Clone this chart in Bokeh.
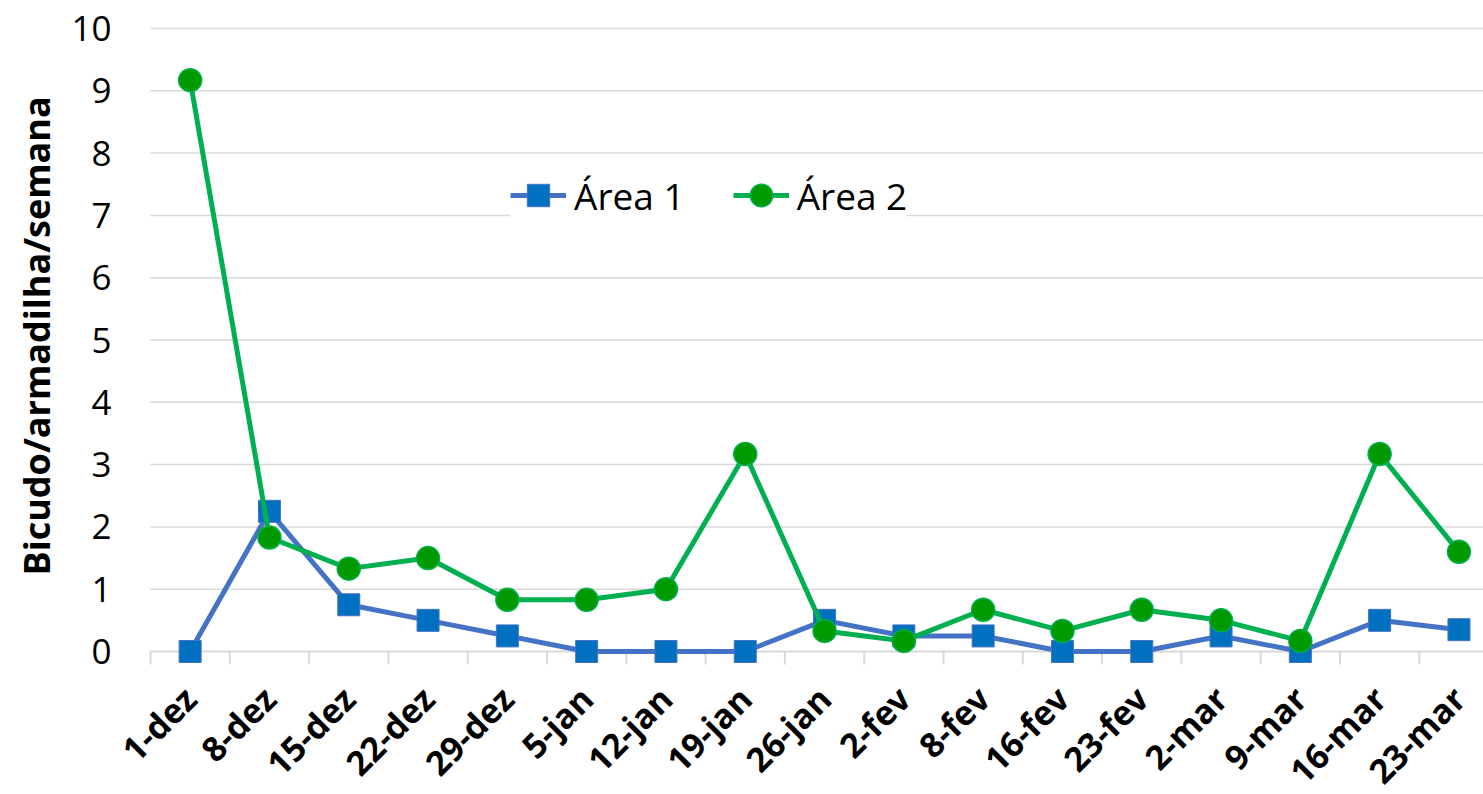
import math
from bokeh.plotting import figure
from bokeh.models import (FixedTicker, LinearAxis, Legend, LegendItem, Range1d, Grid, Title)
from bokeh.core.properties import value
from bokeh.embed import file_html
from bokeh.resources import INLINE

# Weekly trap catches of the boll weevil (bicudo) in two areas
weeks = ["1-dez", "8-dez", "15-dez", "22-dez", "29-dez", "5-jan", "12-jan",
         "19-jan", "26-jan", "2-fev", "8-fev", "16-fev", "23-fev", "2-mar",
         "9-mar", "16-mar", "23-mar"]
area1 = [0, 2.25, 0.75, 0.5, 0.25, 0, 0, 0, 0.5, 0.25, 0.25, 0, 0, 0.25, 0, 0.5, 0.35]
area2 = [9.17, 1.83, 1.33, 1.5, 0.83, 0.83, 1.0, 3.17, 0.33, 0.17, 0.67, 0.33,
         0.67, 0.5, 0.17, 3.17, 1.6]
y_ticks = list(range(0, 11))
y_title = "Bicudo/armadilha/semana"

FONT = "Open Sans"
GRID = "#D9D9D9"
PX = 62.3   # pixels per unit on the value axis
CW = 79.3   # pixels per category
LEFT = 117  # frame left edge

xs = list(range(len(weeks)))
bounds = [i - 0.5 for i in xs]
x0 = -0.5 - (150 - LEFT) / CW

p = figure(width=1483, height=794, output_backend="svg", toolbar_location=None,
           x_axis_location=None, y_axis_location=None,
           x_range=Range1d(x0, x0 + (1483 - LEFT) / CW),
           y_range=Range1d(-143 / PX, 651 / PX),
           min_border_left=LEFT, min_border_right=0, min_border_top=0,
           min_border_bottom=0)
p.outline_line_color = None
p.background_fill_color = "white"
p.border_fill_color = "white"
for g in p.select(type=Grid):
    g.visible = False

# value axis: tick labels only, no line
yax = LinearAxis(ticker=FixedTicker(ticks=y_ticks))
yax.axis_line_color = None
yax.major_tick_line_color = None
yax.minor_tick_line_color = None
yax.major_label_text_font = FONT
yax.major_label_text_font_size = "35px"
yax.major_label_text_color = "black"
yax.major_label_standoff = 0
p.add_layout(yax, "left")

# value axis title, placed along the 0-10 span rather than the whole frame
p.add_layout(Title(text=y_title, align="left", offset=219, standoff=15,
                   text_font=FONT, text_font_size="36px", text_font_style="bold",
                   text_color="black"), "left")

# horizontal gridlines and the category axis line
for yv in y_ticks[1:]:
    p.line([-0.5, 16.5], [yv, yv], line_color=GRID, line_width=1.5, level="underlay")
p.line([-0.5, 16.5], [0, 0], line_color=GRID, line_width=2, level="underlay")
# tick marks between categories
p.segment(x0=bounds, y0=[0] * len(bounds), x1=bounds, y1=[-13 / PX] * len(bounds),
          line_color=GRID, line_width=2, level="underlay")

# slanted category labels
p.text(x=xs, y=[-41 / PX] * len(xs), text=weeks, angle=math.pi / 4,
       text_align="right", text_baseline="middle",
       text_font=value(FONT), text_font_size="34px", text_font_style="bold",
       text_color="black")

l1 = p.line(xs, area1, line_color="#4472C4", line_width=5)
m1 = p.scatter(xs, area1, marker="square", size=22, fill_color="#0070C0",
               line_color="#4472C4", line_width=1)
l2 = p.line(xs, area2, line_color="#00B050", line_width=5)
m2 = p.scatter(xs, area2, marker="circle", size=23, fill_color="#009A00",
               line_color="#00B050", line_width=1.5)

legend = Legend(items=[LegendItem(label="Área 1", renderers=[l1, m1]),
                       LegendItem(label="Área 2", renderers=[l2, m2])],
                orientation="horizontal", location=(360 + 150 - LEFT, 571))
legend.label_text_font = FONT
legend.label_text_font_size = "37px"
legend.label_text_color = "black"
legend.glyph_width = 56
legend.glyph_height = 56
legend.label_standoff = 8
legend.spacing = 48
legend.padding = 12
legend.margin = 0
legend.border_line_color = None
legend.background_fill_color = "white"
legend.background_fill_alpha = 1
p.add_layout(legend, "center")

open("out.html", "w").write(file_html(p, INLINE))
